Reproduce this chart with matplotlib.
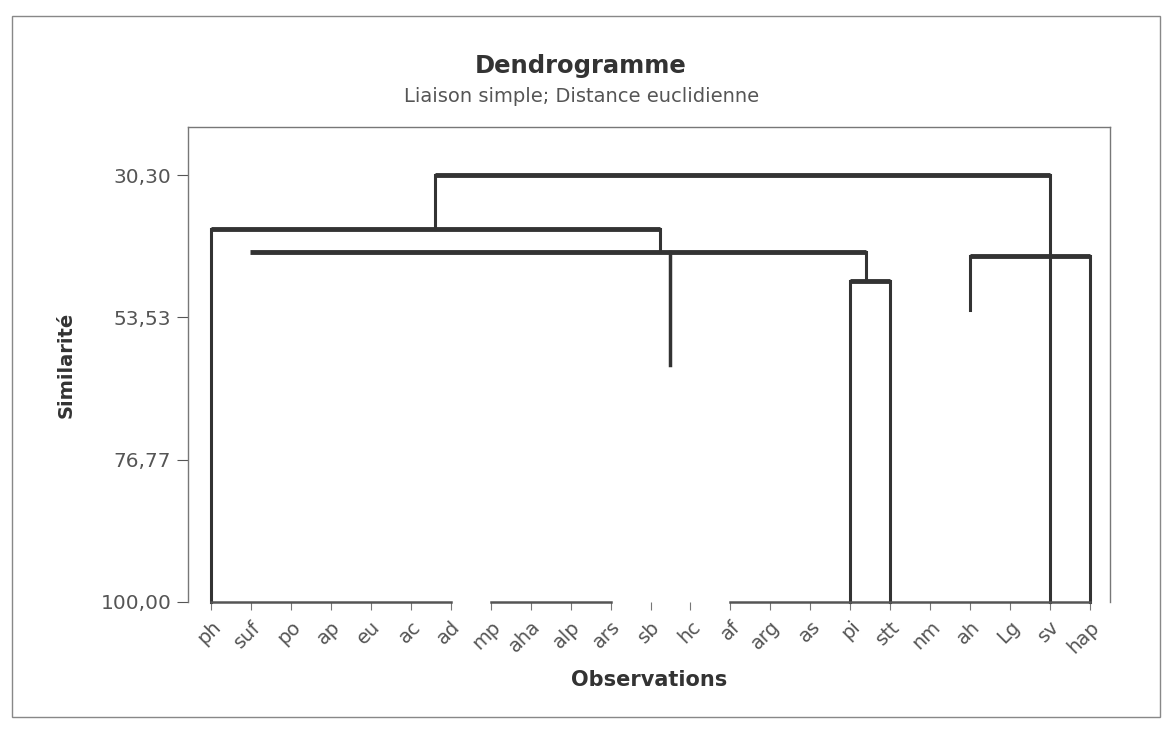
import matplotlib
matplotlib.use('Agg')
import matplotlib.pyplot as plt
from matplotlib.patches import Rectangle

# feuilles (observations) dans l'ordre du dendrogramme
feuilles = ['ph', 'suf', 'po', 'ap', 'eu', 'ac', 'ad', 'mp', 'aha', 'alp', 'ars',
            'sb', 'hc', 'af', 'arg', 'as', 'pi', 'stt', 'nm', 'ah', 'Lg', 'sv', 'hap']

# graduations de similarite
y_ticks = [30.30, 53.53, 76.77, 100.00]

lien_gauche = [5.61, 0.0, 0.98, 16.0, 19.0]
lien_droite = [21.0, 11.24, 16.4, 17.0, 22.0]
lien_haut = [30.30, 39.12, 42.87, 47.60, 43.52]
lien_bas_g = [39.12, 100.0, 42.87, 100.0, 52.34]
lien_bas_d = [100.0, 42.87, 47.60, 100.0, 100.0]

# branche pendante sous le lien a 42.87
pendant_x = 11.49
pendant_haut = 42.87
pendant_bas = 61.31

# petits liens a 100 (observations identiques) : debut, fin
zero_debut = [0, 7, 13]
zero_fin = [6, 10, 22]

W, H = 1167, 730
fig = plt.figure(figsize=(W / 100, H / 100), dpi=100)
fig.patch.set_facecolor('white')

# cadre exterieur
fig.patches.append(Rectangle((12 / W, 1 - 717 / H), (1160 - 12) / W, (717 - 16) / H,
                             transform=fig.transFigure, fill=False,
                             edgecolor='#888888', linewidth=1.0))

ax = fig.add_axes([188 / W, 1 - 602 / H, (1110 - 188) / W, (602 - 127) / H])

couleur = '#333333'
for g, d, h, bg, bd in zip(lien_gauche, lien_droite, lien_haut, lien_bas_g, lien_bas_d):
    ax.plot([g, d], [h, h], color=couleur, lw=3.5, solid_capstyle='butt', clip_on=False)
    ax.plot([g, g], [bg, h], color=couleur, lw=2.2, clip_on=False)
    ax.plot([d, d], [bd, h], color=couleur, lw=2.2, clip_on=False)

ax.plot([pendant_x, pendant_x], [pendant_haut, pendant_bas], color=couleur, lw=2.5)

for a, b in zip(zero_debut, zero_fin):
    ax.plot([a, b], [100, 100], color='#555555', lw=1.8, clip_on=False)

ax.set_xlim(-0.576, 22.5)
ax.set_ylim(100, 22.46)

ax.set_xticks(range(len(feuilles)))
ax.set_xticklabels(feuilles, rotation=45, ha='right', rotation_mode='anchor',
                   fontsize=14, color='#555555')
ax.set_yticks(y_ticks)
ax.set_yticklabels([f'{v:.2f}'.replace('.', ',') for v in y_ticks],
                   fontsize=14.5, color='#555555')
ax.tick_params(axis='x', length=6, color='#777777', pad=5)
ax.tick_params(axis='y', length=8, color='#555555', pad=4)

for s in ['left', 'top', 'right']:
    ax.spines[s].set_color('#777777')
    ax.spines[s].set_linewidth(1.0)
ax.spines['bottom'].set_visible(False)

ax.set_xlabel('Observations', fontsize=15, fontweight='bold', color='#333333', labelpad=10)
ax.set_ylabel('Similarité', fontsize=14, fontweight='bold', color='#333333', labelpad=18)

fig.text(581 / W, 1 - 66 / H, 'Dendrogramme', ha='center', va='center',
         fontsize=17.5, fontweight='bold', color='#333333')
fig.text(582 / W, 1 - 97 / H, 'Liaison simple; Distance euclidienne', ha='center',
         va='center', fontsize=14, color='#555555')

fig.savefig('out.png', dpi=100)
